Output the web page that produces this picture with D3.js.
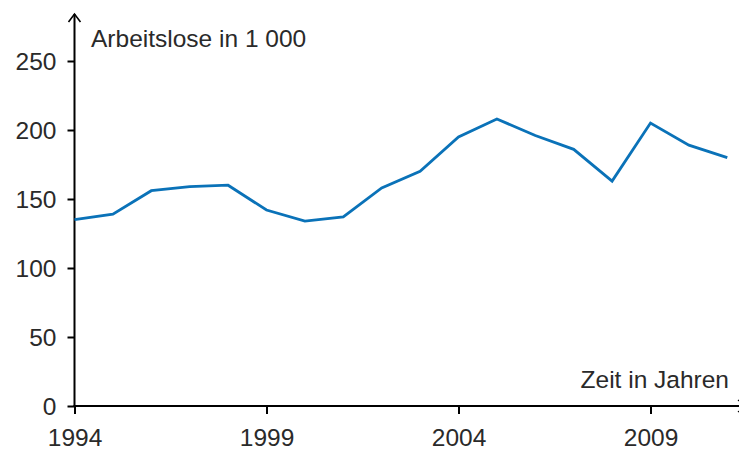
<!DOCTYPE html>
<html lang="de">
<head>
<meta charset="UTF-8">
<title>Arbeitslose</title>
<script src="https://d3js.org/d3.v7.min.js"></script>
<style>
  body { margin: 0; background: #fff; }
  svg { font-family: "Liberation Sans", Arial, sans-serif; }
  .axis text { font-size: 24.5px; fill: #2a2a2a; }
  .axis path, .axis line { stroke: #000; stroke-width: 2; }
</style>
</head>
<body>
<div id="chart"></div>
<script>
// data
var years = [1994, 1995, 1996, 1997, 1998, 1999, 2000, 2001, 2002, 2003,
             2004, 2005, 2006, 2007, 2008, 2009, 2010, 2011];
var unemployed = [135, 139, 156, 159, 160, 142, 134, 137, 158, 170,
                  195, 208, 196, 186, 163, 205, 189, 180];
var xTicks = [1994, 1999, 2004, 2009];
var yTicks = [0, 50, 100, 150, 200, 250];

var W = 739, H = 450;
var x0 = 74.5, y0 = 406;

var svg = d3.select('#chart').append('svg')
    .attr('width', W).attr('height', H);

var x = d3.scaleLinear().domain([1994, 2011]).range([x0, x0 + 17 * 38.4]);
var y = d3.scaleLinear().domain([0, 250]).range([y0, y0 - 250 * 1.38]);

// y axis
var yAxis = svg.append('g').attr('class', 'axis')
    .attr('transform', 'translate(' + x0 + ',0)')
    .call(d3.axisLeft(y).tickValues(yTicks).tickSize(7).tickPadding(11));
yAxis.select('.domain').remove();
yAxis.selectAll('text').attr('dy', '0.36em');
svg.append('line')
    .attr('x1', x0).attr('x2', x0).attr('y1', y0).attr('y2', 14)
    .attr('stroke', '#000').attr('stroke-width', 2);
svg.append('path')
    .attr('d', 'M' + (x0 - 6) + ',22 L' + x0 + ',14 L' + (x0 + 6) + ',22')
    .attr('fill', 'none').attr('stroke', '#000').attr('stroke-width', 1.6);

// x axis
var xAxis = svg.append('g').attr('class', 'axis')
    .attr('transform', 'translate(0,' + y0 + ')')
    .call(d3.axisBottom(x).tickValues(xTicks).tickFormat(d3.format('d')).tickSize(8));
xAxis.select('.domain').remove();
xAxis.selectAll('text').attr('y', 40).attr('dy', 0);
svg.append('line')
    .attr('x1', x0 - 1).attr('x2', W).attr('y1', y0).attr('y2', y0)
    .attr('stroke', '#000').attr('stroke-width', 2);
svg.append('path')
    .attr('d', 'M' + (W - 1) + ',' + (y0 - 6) + ' L' + (W + 7) + ',' + y0 + ' L' + (W - 1) + ',' + (y0 + 6))
    .attr('fill', 'none').attr('stroke', '#000').attr('stroke-width', 1.4);

// axis titles
svg.append('text')
    .attr('x', 91).attr('y', 46.5)
    .attr('font-size', 24.5).attr('fill', '#2a2a2a')
    .text('Arbeitslose in 1 000');
svg.append('text')
    .attr('x', 729).attr('y', 388)
    .attr('text-anchor', 'end')
    .attr('font-size', 24.5).attr('fill', '#2a2a2a')
    .text('Zeit in Jahren');

// line
var line = d3.line()
    .x(function (d, i) { return x(years[i]); })
    .y(function (d) { return y(d); });

svg.append('path')
    .datum(unemployed)
    .attr('fill', 'none')
    .attr('stroke', '#0a72b8')
    .attr('stroke-width', 2.8)
    .attr('stroke-linejoin', 'miter')
    .attr('d', line);
</script>
</body>
</html>
